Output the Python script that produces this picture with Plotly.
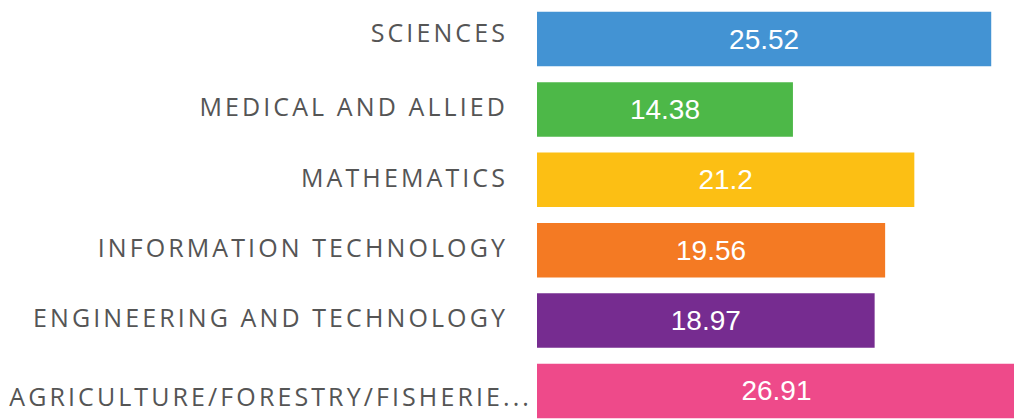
import json
import plotly.graph_objects as go

categories = [
    "SCIENCES",
    "MEDICAL AND ALLIED",
    "MATHEMATICS",
    "INFORMATION TECHNOLOGY",
    "ENGINEERING AND TECHNOLOGY",
    "AGRICULTURE/FORESTRY/FISHERIE...",
]
values = [25.52, 14.38, 21.2, 19.56, 18.97, 26.91]
value_labels = ["25.52", "14.38", "21.2", "19.56", "18.97", "26.91"]
colors = ["#4393D3", "#4DB848", "#FCBF14", "#F47A23", "#762C90", "#EE4A8A"]

# small label nudges (styling only), px: [dx, dy]
label_nudges = {
    "SCIENCES": [0, -6],
    "MEDICAL AND ALLIED": [0, -2],
    "MATHEMATICS": [0, -2],
    "INFORMATION TECHNOLOGY": [0, -2],
    "ENGINEERING AND TECHNOLOGY": [0, -2],
    "AGRICULTURE/FORESTRY/FISHERIE...": [24, 6],
}

fig = go.Figure(
    go.Bar(
        x=values,
        y=categories,
        orientation="h",
        marker=dict(color=colors, line=dict(width=0)),
        text=value_labels,
        textposition="inside",
        insidetextanchor="middle",
        textangle=0,
        insidetextfont=dict(family="Liberation Sans, Arial, sans-serif", size=28, color="#FFFFFF"),
        hoverinfo="skip",
    )
)

fig.update_layout(
    width=1014,
    height=419,
    margin=dict(l=537, r=0, t=0, b=0),
    paper_bgcolor="#FFFFFF",
    plot_bgcolor="#FFFFFF",
    bargap=0.226,
    showlegend=False,
    xaxis=dict(range=[0, 26.8], visible=False, fixedrange=True),
    yaxis=dict(
        range=[5.398, -0.554],
        showgrid=False,
        showline=False,
        zeroline=False,
        ticks="",
        ticklabelstandoff=28,
        tickfont=dict(family="Open Sans, sans-serif", size=25, color="#555555"),
        fixedrange=True,
    ),
)

post = (
    "document.body.style.margin='0';"
    "var nud=" + json.dumps(label_nudges) + ";"
    "document.querySelectorAll('.ytick text').forEach(function(t){"
    "t.style.letterSpacing='3.1px';"
    "var n=nud[t.textContent];"
    "if(n){"
    "t.setAttribute('x', parseFloat(t.getAttribute('x')||0)+n[0]);"
    "t.setAttribute('y', parseFloat(t.getAttribute('y')||0)+n[1]);"
    "}});"
)
fig.write_html("out.html", config={"displayModeBar": False}, post_script=post)
